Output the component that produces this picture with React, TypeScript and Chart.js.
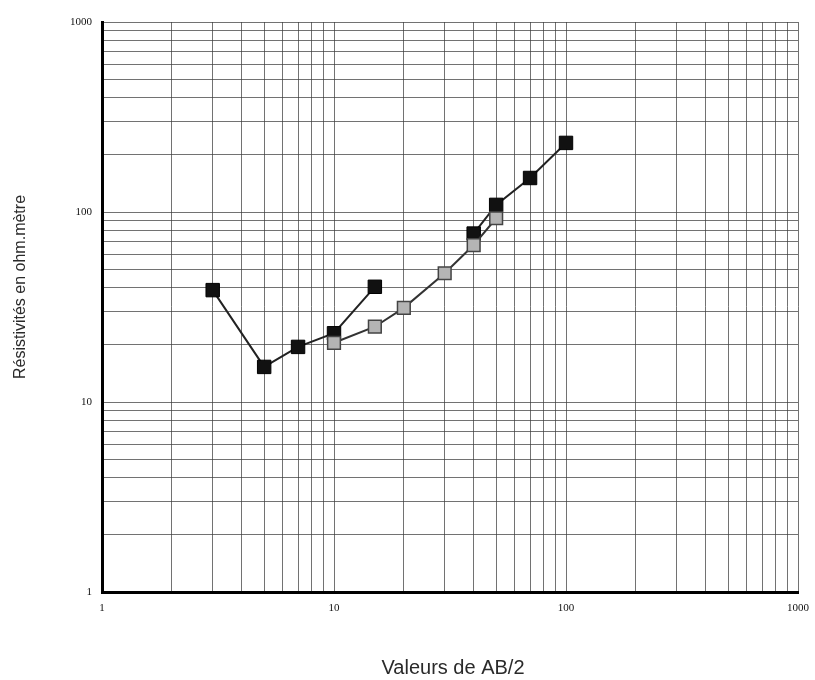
import React, { useEffect, useRef } from "react";
import { Chart, registerables } from "chart.js";

Chart.register(...registerables);

// Data (AB/2 vs apparent resistivity)
const blackAX = [3, 5, 7, 10, 15];
const blackAY = [38.8, 15.3, 19.5, 23, 40.4];
const blackBX = [40, 50, 70, 100];
const blackBY = [77, 109, 151, 231];
const grayX = [10, 15, 20, 30, 40, 50];
const grayY = [20.5, 24.9, 31.3, 47.6, 67, 92.7];

const decadeTicks = [1, 10, 100, 1000];
const decadeLabels = ["1", "10", "100", "1000"];
const minorMultipliers = [1, 2, 3, 4, 5, 6, 7, 8, 9];

const xTitle = "Valeurs de AB/2";
const yTitle = "Résistivités en ohm.mètre";

function gridTicks(): number[] {
  const out: number[] = [];
  for (let d = 0; d < decadeTicks.length - 1; d++) {
    for (const m of minorMultipliers) out.push(decadeTicks[d] * m);
  }
  out.push(decadeTicks[decadeTicks.length - 1]);
  return out;
}

function toPoints(xs: number[], ys: number[]) {
  return xs.map((x, i) => ({ x, y: ys[i] }));
}

const labelFor = (value: number | string) => {
  const v = Number(value);
  const idx = decadeTicks.findIndex((d) => Math.abs(d - v) < 1e-9);
  return idx >= 0 ? decadeLabels[idx] : "";
};

const titlesPlugin = {
  id: "axisTitlesCustom",
  afterDraw(chart: any) {
    const ctx = chart.ctx as CanvasRenderingContext2D;
    ctx.save();
    ctx.fillStyle = "#2a2a2a";
    ctx.textAlign = "center";
    ctx.textBaseline = "middle";
    ctx.font = "20px 'Liberation Sans', Arial, sans-serif";
    ctx.fillText(xTitle, 453, 668);
    ctx.translate(21, 287);
    ctx.rotate(-Math.PI / 2);
    ctx.font = "16px 'Liberation Sans', Arial, sans-serif";
    ctx.fillText(yTitle, 0, 0);
    ctx.restore();
  },
};

const whiteBg = {
  id: "whiteBg",
  beforeDraw(chart: any) {
    const ctx = chart.ctx as CanvasRenderingContext2D;
    ctx.save();
    ctx.fillStyle = "#ffffff";
    ctx.fillRect(0, 0, chart.width, chart.height);
    ctx.restore();
  },
};

export default function App() {
  const ref = useRef<HTMLCanvasElement | null>(null);

  useEffect(() => {
    if (!ref.current) return;
    const ticksAll = gridTicks();
    const tickFont = { family: "'Liberation Serif', 'Times New Roman', serif", size: 11 };
    const gridColor = "rgba(60,60,60,0.72)";

    const chart = new Chart(ref.current, {
      type: "scatter",
      data: {
        datasets: [
          {
            label: "gray",
            data: toPoints(grayX, grayY),
            showLine: true,
            borderColor: "#333",
            borderWidth: 2,
            pointStyle: "rect",
            pointRadius: 9,
            pointBackgroundColor: "#b4b4b4",
            pointBorderColor: "#444",
            pointBorderWidth: 1.5,
            order: 0,
          },
          {
            label: "blackA",
            data: toPoints(blackAX, blackAY),
            showLine: true,
            borderColor: "#222",
            borderWidth: 2,
            pointStyle: "rect",
            pointRadius: 9.5,
            pointBackgroundColor: "#111",
            pointBorderColor: "#000",
            pointBorderWidth: 1,
            order: 1,
          },
          {
            label: "blackB",
            data: toPoints(blackBX, blackBY),
            showLine: true,
            borderColor: "#222",
            borderWidth: 2,
            pointStyle: "rect",
            pointRadius: 9.5,
            pointBackgroundColor: "#111",
            pointBorderColor: "#000",
            pointBorderWidth: 1,
            order: 1,
          },
        ],
      },
      options: {
        animation: false,
        responsive: false,
        maintainAspectRatio: false,
        layout: { padding: { left: 0, top: 22, right: 17, bottom: 0 } },
        plugins: {
          legend: { display: false },
          tooltip: { enabled: false },
          title: { display: false },
        },
        scales: {
          x: {
            type: "logarithmic",
            min: 1,
            max: 1000,
            afterBuildTicks: (scale: any) => {
              scale.ticks = ticksAll.map((v) => ({ value: v }));
            },
            afterFit: (scale: any) => {
              scale.height = 88;
              scale.paddingLeft = 0;
              scale.paddingRight = 0;
            },
            grid: { color: gridColor, lineWidth: 1, drawTicks: false },
            border: { color: "#000", width: 3 },
            ticks: {
              autoSkip: false,
              maxRotation: 0,
              padding: 10,
              color: "#111",
              font: tickFont,
              callback: (v: any) => labelFor(v),
            },
          },
          y: {
            type: "logarithmic",
            min: 1,
            max: 1000,
            afterBuildTicks: (scale: any) => {
              scale.ticks = ticksAll.map((v) => ({ value: v }));
            },
            afterFit: (scale: any) => {
              scale.width = 102;
              scale.paddingTop = 0;
              scale.paddingBottom = 0;
            },
            grid: { color: gridColor, lineWidth: 1, drawTicks: false },
            border: { color: "#000", width: 3 },
            ticks: {
              autoSkip: false,
              padding: 10,
              color: "#111",
              font: tickFont,
              callback: (v: any) => labelFor(v),
            },
          },
        },
      },
      plugins: [whiteBg, titlesPlugin],
    } as any);

    return () => chart.destroy();
  }, []);

  return (
    <div style={{ position: "absolute", left: 0, top: 0, width: 815, height: 680, background: "#fff" }}>
      <canvas ref={ref} width={815} height={680} style={{ display: "block" }} />
    </div>
  );
}
